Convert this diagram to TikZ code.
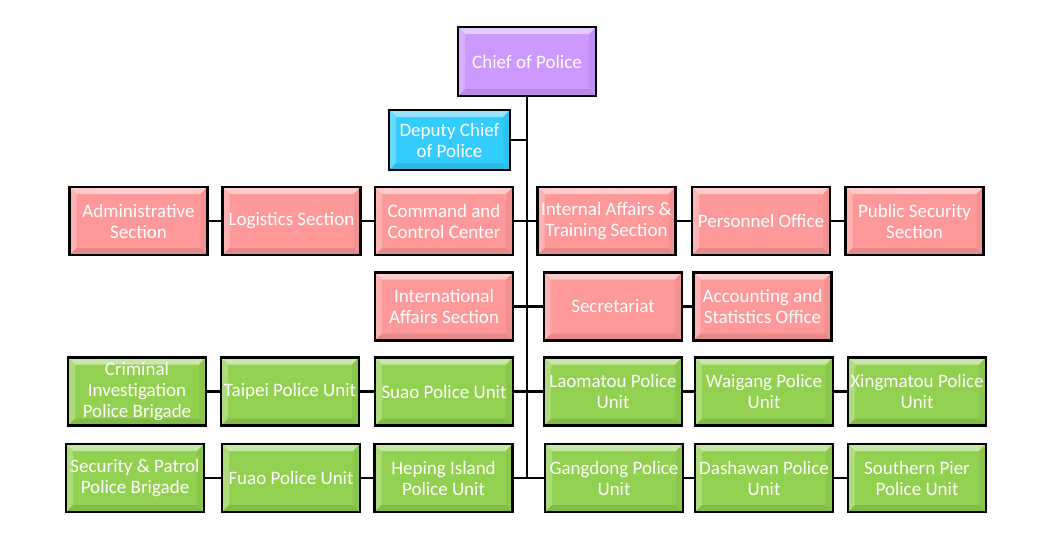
\documentclass[tikz,border=0pt]{standalone}
\usepackage{fontspec}
\setmainfont{Carlito}
\usetikzlibrary{calc}
\definecolor{lilac}{RGB}{204,153,255}
\definecolor{cyanb}{RGB}{51,204,255}
\definecolor{pinkb}{RGB}{255,153,153}
\definecolor{greenb}{RGB}{146,208,80}
\tikzset{
  orgbox/.style={draw=black, line width=2.5pt, fill=#1, text=white, align=center,
    inner sep=0pt, minimum width=138pt, minimum height=68pt,
    font=\fontsize{19}{21}\selectfont,
    path picture={
      \coordinate (pA) at (path picture bounding box.south west);
      \coordinate (pB) at (path picture bounding box.north east);
      \coordinate (pTL) at (pA|-pB);
      \coordinate (pBR) at (pB|-pA);
      \fill[#1!50!white] (pTL) -- (pB) -- ($(pB)+(-7pt,-7pt)$) -- ($(pTL)+(7pt,-7pt)$) -- cycle;
      \fill[#1!75!white] (pTL) -- (pA) -- ($(pA)+(7pt,7pt)$) -- ($(pTL)+(7pt,-7pt)$) -- cycle;
      \fill[#1!90!black] (pA) -- (pBR) -- ($(pBR)+(-7pt,7pt)$) -- ($(pA)+(7pt,7pt)$) -- cycle;
      \fill[#1!95!black] (pBR) -- (pB) -- ($(pB)+(-7pt,-7pt)$) -- ($(pBR)+(-7pt,7pt)$) -- cycle;
    }},
  link/.style={line width=2.8pt, draw=black}
}
\begin{document}
\begin{tikzpicture}[x=1pt,y=-1pt]
\useasboundingbox[fill=white] (0,0) rectangle (1055,535);
% top
\node[orgbox=lilac, minimum height=69pt] (chief) at (527,61.5) {Chief of Police};
\node[orgbox=cyanb, minimum width=121pt, minimum height=60pt] (dep) at (449.5,140) {Deputy Chief\\of Police};
% row 1
\node[orgbox=pinkb] (adm) at (138.5,221) {Administrative\\Section};
\node[orgbox=pinkb] (log) at (291.5,221) {Logistics Section};
\node[orgbox=pinkb] (cmd) at (444,221) {Command and\\Control Center};
\node[orgbox=pinkb] (ia) at (606.5,221) {Internal Affairs \&\\Training Section};
\node[orgbox=pinkb] (per) at (761,221) {Personnel Office};
\node[orgbox=pinkb] (pub) at (914.5,221) {Public Security\\Section};
% row 2
\node[orgbox=pinkb] (intl) at (444,306.5) {International\\Affairs Section};
\node[orgbox=pinkb] (sec) at (613,306.5) {Secretariat};
\node[orgbox=pinkb] (acc) at (762.5,306.5) {Accounting and\\Statistics Office};
% row 3
\node[orgbox=greenb] (cri) at (137,391.5) {Criminal\\Investigation\\Police Brigade};
\node[orgbox=greenb] (tai) at (290,391.5) {Taipei Police Unit};
\node[orgbox=greenb] (sua) at (444,391.5) {Suao Police Unit};
\node[orgbox=greenb] (lao) at (613,391.5) {Laomatou Police\\Unit};
\node[orgbox=greenb] (wai) at (764,391.5) {Waigang Police\\Unit};
\node[orgbox=greenb] (xin) at (917,391.5) {Xingmatou Police\\Unit};
% row 4
\node[orgbox=greenb] (secp) at (135,478) {Security \& Patrol\\Police Brigade};
\node[orgbox=greenb] (fua) at (291,478) {Fuao Police Unit};
\node[orgbox=greenb] (hep) at (443.5,478) {Heping Island\\Police Unit};
\node[orgbox=greenb] (gan) at (614,478) {Gangdong Police\\Unit};
\node[orgbox=greenb] (das) at (764,478) {Dashawan Police\\Unit};
\node[orgbox=greenb] (sou) at (917,478) {Southern Pier\\Police Unit};
% connectors
\coordinate (tb) at (527,478);
\draw[link] (chief) -- (tb);
\draw[link] (dep) -- (dep -| tb);
\draw[link] (adm) -- (log);
\draw[link] (log) -- (cmd);
\draw[link] (cmd) -- (ia);
\draw[link] (ia) -- (per);
\draw[link] (per) -- (pub);
\draw[link] (intl) -- (sec);
\draw[link] (sec) -- (acc);
\draw[link] (cri) -- (tai);
\draw[link] (tai) -- (sua);
\draw[link] (sua) -- (lao);
\draw[link] (lao) -- (wai);
\draw[link] (wai) -- (xin);
\draw[link] (secp) -- (fua);
\draw[link] (fua) -- (hep);
\draw[link] (hep) -- (gan);
\draw[link] (gan) -- (das);
\draw[link] (das) -- (sou);
\end{tikzpicture}
\end{document}
